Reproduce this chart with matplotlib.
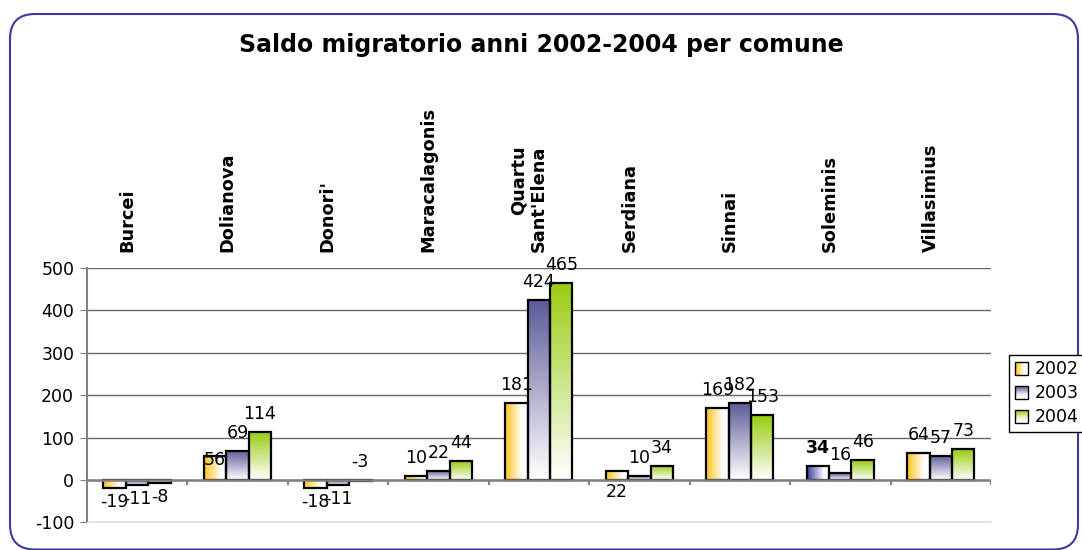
import numpy as np
import matplotlib
matplotlib.use('Agg')
import matplotlib.pyplot as plt
import matplotlib.transforms as mtransforms
from matplotlib.patches import FancyBboxPatch, Rectangle
from matplotlib.legend_handler import HandlerBase
from matplotlib.colors import LinearSegmentedColormap, to_rgb

# dati
comuni = ['Burcei', 'Dolianova', "Donori'", 'Maracalagonis', "Quartu\nSant'Elena",
          'Serdiana', 'Sinnai', 'Soleminis', 'Villasimius']
anni = ['2002', '2003', '2004']
v2002 = [-19, 56, -18, 10, 181, 22, 169, 34, 64]
v2003 = [-11, 69, -11, 22, 424, 10, 182, 16, 57]
v2004 = [-8, 114, -3, 44, 465, 34, 153, 46, 73]
valori = [v2002, v2003, v2004]

# stile serie: colore e direzione della sfumatura
colori = ['#FFC41A', '#5C5C99', '#99CC11']
orizz = [True, False, False]

# eccezioni di stile/posizione delle etichette (pixel)
spost_etich = {(0, 1): -4, (0, 5): -21, (2, 2): 19}
barre_speciali = {(0, 7): '#3C3CA0'}
etich_bold = {(0, 7)}

plt.rcParams['font.family'] = 'DejaVu Sans'
plt.rcParams['axes.unicode_minus'] = False

fig = plt.figure(figsize=(10.82, 5.5), dpi=100)
ax = fig.add_axes([86.7 / 1082, 1 - 522.4 / 550, (991 - 86.7) / 1082, (522.4 - 268) / 550])

# bordo arrotondato
bordo = FancyBboxPatch((0.10, 0.005), 10.68, 5.355, boxstyle='round,pad=0,rounding_size=0.25',
                       transform=fig.dpi_scale_trans, fc='none', ec='#3A3AA0', lw=1.5)
fig.patches.append(bordo)

fig.text(0.5, 1 - 45 / 550, 'Saldo migratorio anni 2002-2004 per comune',
         ha='center', va='center', fontsize=17, fontweight='bold')

x = np.arange(len(comuni))
w = 0.223

def cmap_da(col):
    return LinearSegmentedColormap.from_list('g', ['white', col])

for s, vals in enumerate(valori):
    pos = x + (s - 1) * w
    bars = ax.bar(pos, vals, w, facecolor='none', edgecolor='black', lw=1.6, zorder=3)
    for i, b in enumerate(bars):
        col = barre_speciali.get((s, i), colori[s])
        hor = orizz[s] or (s, i) in barre_speciali
        x0, x1 = b.get_x(), b.get_x() + b.get_width()
        y0, y1 = sorted([0, vals[i]])
        if hor:
            grad = np.clip(1 - np.linspace(0, 1, 64) / 0.75, 0, 1).reshape(1, -1)
        else:
            grad = np.linspace(1, 0, 64).reshape(-1, 1)
        ax.imshow(grad, extent=(x0, x1, y0, y1), origin='upper', aspect='auto',
                  cmap=cmap_da(col), vmin=0, vmax=1, zorder=2, interpolation='bilinear')
        v = vals[i]
        if (s, i) in spost_etich:
            dy = spost_etich[(s, i)]
        elif v >= 0:
            dy = 18
        else:
            dy = -14
        ax.annotate(str(v), (pos[i], v), xytext=(0, dy), textcoords='offset pixels',
                    ha='center', va='center', fontsize=12.5,
                    fontweight='bold' if (s, i) in etich_bold else 'normal', zorder=5)

ax.set_xlim(-0.5, len(comuni) - 0.5)
ax.set_ylim(-100, 500)
ax.set_yticks([-100, 0, 100, 200, 300, 400, 500])
ax.yaxis.grid(True, color='#666666', lw=1, zorder=1)
ax.set_axisbelow(True)
ax.tick_params(axis='y', direction='out', length=5, color='#808080', labelsize=12.5, pad=4)
ax.set_xticks([])
for sp in ['top', 'right']:
    ax.spines[sp].set_visible(False)
ax.spines['left'].set_color('#808080')
ax.spines['left'].set_linewidth(1.5)
ax.spines['bottom'].set_color('#E6E6E6')

# asse zero con tacche tra le categorie
ax.axhline(0, color='#808080', lw=1.8, zorder=4)
ax.vlines(np.arange(len(comuni)) + 0.5, -12, 0, color='#808080', lw=1.5, zorder=4)

# nomi dei comuni sopra il grafico
trans = mtransforms.blended_transform_factory(ax.transData, ax.transAxes)
for i, c in enumerate(comuni):
    ax.text(i - 0.1, 1.063, c, transform=trans, rotation=90, ha='center', va='bottom',
            multialignment='right', fontsize=12.8, fontweight='bold')

# legenda con quadratini sfumati
class GradHandler(HandlerBase):
    def __init__(self, color, horizontal):
        super().__init__()
        self.color = color
        self.horizontal = horizontal

    def create_artists(self, legend, orig_handle, xdescent, ydescent, width, height, fontsize, trans):
        sz = min(width, height)
        x0 = -xdescent + (width - sz) / 2
        y0 = -ydescent + (height - sz) / 2
        c = np.array(to_rgb(self.color))
        n = 12
        arts = []
        for k in range(n):
            f = min(1.0, k / (n - 1) / 0.8)
            col = c * (1 - f) + f
            if self.horizontal:
                r = Rectangle((x0 + sz * k / n, y0), sz / n, sz, fc=col, ec='none', transform=trans)
            else:
                r = Rectangle((x0, y0 + sz - sz * (k + 1) / n), sz, sz / n, fc=col, ec='none', transform=trans)
            arts.append(r)
        arts.append(Rectangle((x0, y0), sz, sz, fc='none', ec='black', lw=1, transform=trans))
        return arts

handles = [Rectangle((0, 0), 1, 1) for _ in anni]
hmap = {h: GradHandler(colori[k], orizz[k]) for k, h in enumerate(handles)}
leg = fig.legend(handles, anni, handler_map=hmap, loc='upper left',
                 bbox_to_anchor=(1009 / 1082, 1 - 355 / 550), fontsize=12.5,
                 fancybox=False, frameon=True, edgecolor='black', framealpha=1,
                 handlelength=0.8, handleheight=0.8, handletextpad=0.4,
                 borderpad=0.3, labelspacing=0.35, borderaxespad=0)
leg.get_frame().set_linewidth(1)

fig.savefig('out.png', dpi=100)
